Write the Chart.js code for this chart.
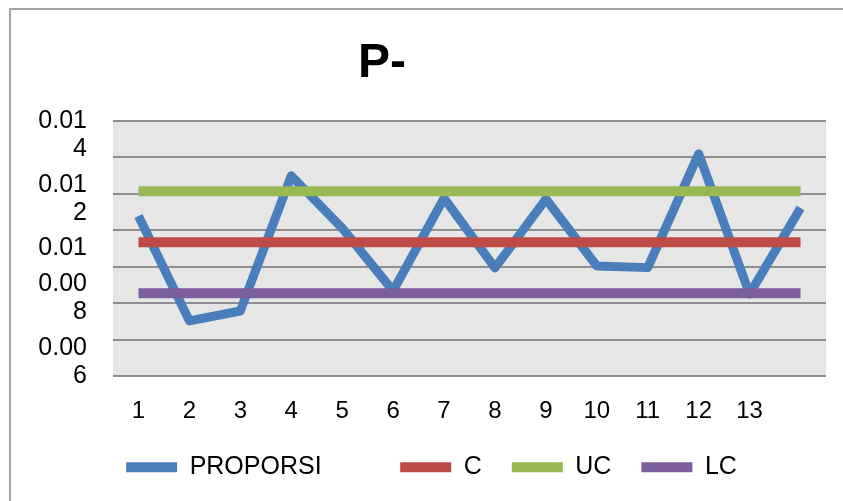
<!DOCTYPE html>
<html>
<head>
<meta charset="utf-8">
<script src="https://cdn.jsdelivr.net/npm/chart.js@4.4.1/dist/chart.umd.min.js"></script>
<style>
  html, body { margin: 0; padding: 0; background: #fff; overflow: hidden; }
  #wrap { position: relative; width: 843px; height: 501px; }
  #wrap canvas { position: absolute; left: 0; top: 0; }
  /* outer chart frame: only its top and left edges fall inside the page */
  #frame { position: absolute; left: 9px; top: 8px; width: 900px; height: 600px;
           border-left: 2px solid #a3a3a3; border-top: 2px solid #a3a3a3; pointer-events: none; }
</style>
</head>
<body>
<div id="wrap">
  <canvas id="chart" width="843" height="501"></canvas>
  <div id="frame"></div>
</div>
<script>
// ---- data ----
const titleText = 'P-';
const categories = ['1', '2', '3', '4', '5', '6', '7', '8', '9', '10', '11', '12', '13', ''];
const proporsi = [0.01102, 0.00773, 0.00804, 0.01228, 0.01064, 0.00867, 0.01158,
                  0.00939, 0.01155, 0.00945, 0.00940, 0.01297, 0.00857, 0.01127];
const centerLine = [0.0102, 0.0102, 0.0102, 0.0102, 0.0102, 0.0102, 0.0102,
                    0.0102, 0.0102, 0.0102, 0.0102, 0.0102, 0.0102, 0.0102];
const upperLimit = [0.0118, 0.0118, 0.0118, 0.0118, 0.0118, 0.0118, 0.0118,
                    0.0118, 0.0118, 0.0118, 0.0118, 0.0118, 0.0118, 0.0118];
const lowerLimit = [0.0086, 0.0086, 0.0086, 0.0086, 0.0086, 0.0086, 0.0086,
                    0.0086, 0.0086, 0.0086, 0.0086, 0.0086, 0.0086, 0.0086];
const yLabelTicks = [0.006, 0.008, 0.010, 0.012, 0.014];
const yMin = 0.006;
const yMax = 0.014;
const gridDivisions = 7;

// ---- helpers ----
const FONT = '"Liberation Sans", Arial, Helvetica, sans-serif';
const EPS = 1e-9;
const gridValues = [];
for (let k = 0; k <= gridDivisions; k++) gridValues.push(yMin + k * (yMax - yMin) / gridDivisions);
const near = (list, v) => list.some(t => Math.abs(t - v) < EPS);

// axis numbers wrap after four characters; the upper half keeps its first line
// on the tick, the lower half its last line
function tickText(v) {
  const s = v.toFixed(3).replace(/0+$/, '');
  const lines = [];
  for (let i = 0; i < s.length; i += 4) lines.push(s.slice(i, i + 4));
  if (lines.length === 1) return lines[0];
  return v > (yMin + yMax) / 2 ? [''].concat(lines) : lines.concat(['']);
}

const plotBackground = {
  id: 'plotBackground',
  beforeDraw(chart) {
    const { ctx, chartArea: a } = chart;
    ctx.save();
    ctx.fillStyle = '#e6e6e6';
    ctx.fillRect(a.left, a.top, a.right - a.left, a.bottom - a.top);
    ctx.restore();
  }
};

const heading = {
  id: 'heading',
  afterDraw(chart) {
    const ctx = chart.ctx;
    ctx.save();
    ctx.font = 'bold 48px ' + FONT;
    ctx.fillStyle = '#000';
    ctx.textAlign = 'center';
    ctx.textBaseline = 'alphabetic';
    ctx.fillText(titleText, 382, 77);
    ctx.restore();
  }
};

const LEFT_PAD = 37;
const PLOT_LEFT = 113;

new Chart(document.getElementById('chart'), {
  type: 'line',
  data: {
    labels: categories,
    datasets: [
      { label: 'PROPORSI', data: proporsi, borderColor: '#4a7ebb', borderWidth: 9,
        borderJoinStyle: 'round', pointRadius: 0, fill: false, tension: 0, order: 3 },
      { label: 'C', data: centerLine, borderColor: '#be4b48', borderWidth: 10,
        pointRadius: 0, fill: false, order: 2 },
      { label: 'UC', data: upperLimit, borderColor: '#98b954', borderWidth: 10,
        pointRadius: 0, fill: false, order: 1 },
      { label: 'LC', data: lowerLimit, borderColor: '#7d5fa0', borderWidth: 10,
        pointRadius: 0, fill: false, order: 0 }
    ]
  },
  options: {
    responsive: false,
    animation: false,
    devicePixelRatio: 1,
    layout: { padding: { left: LEFT_PAD, right: 17, top: 121, bottom: 11.3 } },
    plugins: {
      title: { display: false },
      tooltip: { enabled: false },
      legend: {
        display: true,
        position: 'bottom',
        labels: {
          color: '#000',
          font: { family: FONT, size: 25 },
          boxWidth: 51,
          boxHeight: 10,
          padding: 30,
          generateLabels(chart) {
            return chart.data.datasets.map((ds, i) => ({
              // the long series name gets a wider slot
              text: ds.label + (i === 0 ? '\u00a0'.repeat(7) : ''),
              fillStyle: ds.borderColor,
              strokeStyle: ds.borderColor,
              lineWidth: 0,
              fontColor: '#000',
              hidden: false,
              datasetIndex: i
            }));
          }
        }
      }
    },
    scales: {
      x: {
        type: 'category',
        offset: true,
        grid: { display: false, drawTicks: false },
        border: { display: false },
        afterFit(scale) { scale.height = 48.7; },
        ticks: {
          color: '#000',
          font: { family: FONT, size: 24, lineHeight: 1.1 },
          padding: 22.3,
          autoSkip: false,
          maxRotation: 0
        }
      },
      y: {
        type: 'linear',
        min: yMin,
        max: yMax,
        afterBuildTicks(scale) {
          const vals = gridValues.slice();
          yLabelTicks.forEach(v => { if (!near(vals, v)) vals.push(v); });
          vals.sort((a, b) => a - b);
          scale.ticks = vals.map(v => ({ value: v }));
        },
        afterFit(scale) { scale.width = PLOT_LEFT - LEFT_PAD; },
        grid: {
          drawTicks: false,
          lineWidth: 2,
          color: (c) => (c.tick && near(gridValues, c.tick.value)) ? '#8f8f8f' : 'rgba(0,0,0,0)'
        },
        border: { display: false },
        ticks: {
          color: '#000',
          font: { family: FONT, size: 25, lineHeight: 1.12 },
          padding: 26,
          autoSkip: false,
          callback: (v) => near(yLabelTicks, v) ? tickText(v) : ''
        }
      }
    }
  },
  plugins: [plotBackground, heading]
});
</script>
</body>
</html>
